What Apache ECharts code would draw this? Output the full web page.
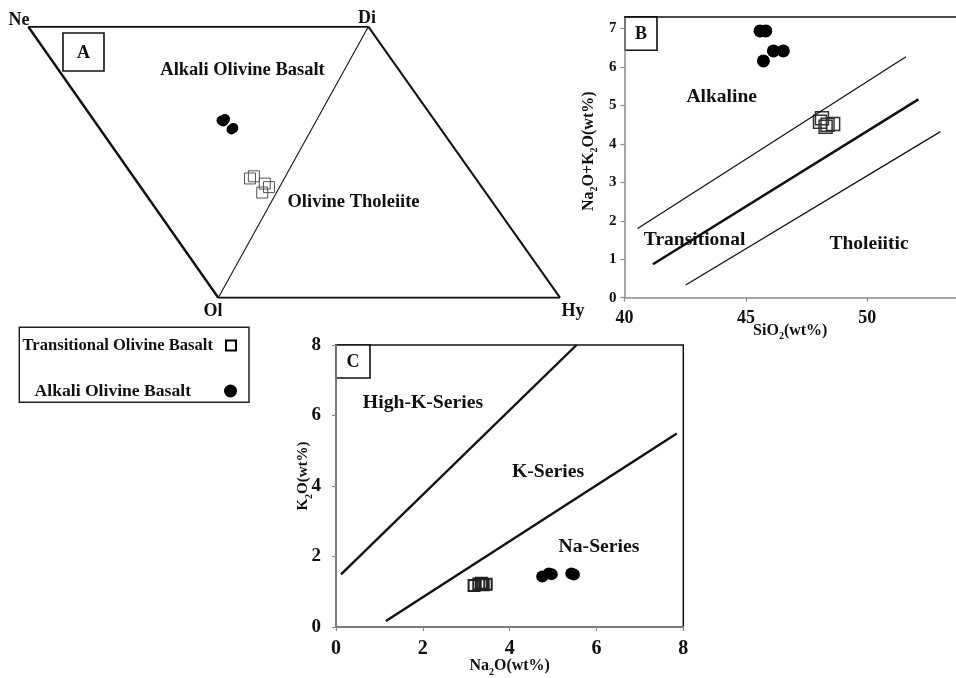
<!DOCTYPE html>
<html>
<head>
<meta charset="utf-8">
<script src="https://cdn.jsdelivr.net/npm/echarts@6/dist/echarts.min.js"></script>
<style>
  html, body { margin: 0; padding: 0; background: #fff; }
  #chart { width: 956px; height: 678px; }
</style>
</head>
<body>
<div id="chart"></div>
<script>
// ---------- Data ----------
// A: normative Ne–Di–Ol proportions (%)
const aobNorm = [[27.9, 37.5, 34.6], [27.1, 38.8, 34.1], [27.2, 37.8, 35.0], [23.5, 38.6, 37.9], [23.2, 39.4, 37.4]];
const tobNorm = [[10.1, 33.9, 56.0], [9.3, 35.5, 55.2], [4.9, 37.2, 57.9], [3.1, 37.7, 59.2], [4.2, 34.6, 61.2]];

// B: total alkali vs silica (wt%)
const aobSiO2 = [45.58, 45.82, 45.72, 46.13, 46.54];
const aobAlk  = [6.94, 6.94, 6.16, 6.42, 6.42];
const tobSiO2 = [48.13, 48.59, 48.28, 48.05, 48.36];
const tobAlk  = [4.67, 4.52, 4.45, 4.58, 4.50];
const alkalineLimit   = [[40.54, 1.80], [51.59, 6.27]];
const alkTholDivide   = [[41.17, 0.87], [52.10, 5.16]];
const tholeiiticLimit = [[42.52, 0.33], [53.01, 4.32]];
const silicaTicks = [40, 45, 50];
const alkaliTicks = [0, 1, 2, 3, 4, 5, 6, 7];

// C: K2O vs Na2O (wt%)
const aobNa2O = [4.75, 4.90, 4.97, 5.42, 5.48];
const aobK2O  = [1.43, 1.52, 1.50, 1.52, 1.49];
const tobNa2O = [3.18, 3.29, 3.39, 3.46, 3.35];
const tobK2O  = [1.18, 1.22, 1.20, 1.21, 1.24];
const highKLimit = [[0.115, 1.49], [5.54, 8.0]];
const naKLimit   = [[1.15, 0.17], [7.85, 5.49]];
const sodaTicks = [0, 2, 4, 6, 8];
const potashTicks = [0, 2, 4, 6, 8];

const TOB = 'Transitional Olivine Basalt';
const AOB = 'Alkali Olivine Basalt';

// ---------- Helpers ----------
const SERIF = '"Liberation Serif", "Times New Roman", serif';
const INK = '#111';

// corners of the Ne–Di–Ol–Hy diagram in its own unit frame
const corner = { Ne: [0, 1], Di: [1, 1], Ol: [0.5588, 0], Hy: [1.5638, 0] };
function ternaryXY(p) {
  const s = p[0] + p[1] + p[2];
  return [
    (p[0] * corner.Ne[0] + p[1] * corner.Di[0] + p[2] * corner.Ol[0]) / s,
    (p[0] * corner.Ne[1] + p[1] * corner.Di[1] + p[2] * corner.Ol[1]) / s
  ];
}
const zip = (xs, ys) => xs.map((x, i) => [x, ys[i]]);

function subRich(size) {
  return {
    b: { fontSize: size, fontWeight: 'bold', fontFamily: SERIF, color: INK, lineHeight: size + 6 },
    s: { fontSize: Math.round(size * 0.65), fontWeight: 'bold', fontFamily: SERIF, color: INK, lineHeight: 8, verticalAlign: 'bottom' }
  };
}

function edge(a, b, width) {
  return {
    type: 'line', xAxisIndex: 0, yAxisIndex: 0, data: [corner[a], corner[b]],
    symbol: 'none', silent: true, lineStyle: { color: INK, width: width }
  };
}
function boundary(axis, pts, width) {
  return {
    type: 'line', xAxisIndex: axis, yAxisIndex: axis, data: pts,
    symbol: 'none', silent: true, lineStyle: { color: INK, width: width }
  };
}
function squares(axis, pts, size, stroke, bw) {
  return {
    name: TOB, type: 'scatter', xAxisIndex: axis, yAxisIndex: axis, data: pts,
    symbol: 'rect', symbolSize: size,
    itemStyle: { color: 'rgba(0,0,0,0)', borderColor: stroke, borderWidth: bw, opacity: 1 }
  };
}
function dots(axis, pts, size) {
  return {
    name: AOB, type: 'scatter', xAxisIndex: axis, yAxisIndex: axis, data: pts,
    symbol: 'circle', symbolSize: size,
    itemStyle: { color: '#000', borderWidth: 0, opacity: 1 }
  };
}
function textAt(x, y, str, size) {
  return {
    type: 'text', x: x, y: y, silent: true,
    style: { text: str, fontSize: size, fontWeight: 'bold', fontFamily: SERIF, fill: INK, align: 'center', verticalAlign: 'middle' }
  };
}
function tagBox(x, y, w, h, str) {
  return [
    { type: 'rect', shape: { x: x, y: y, width: w, height: h }, silent: true, style: { fill: '#fff', stroke: INK, lineWidth: 1.6 } },
    textAt(x + w / 2, y + h / 2 + 1, str, 18)
  ];
}

const font = (size) => ({ fontSize: size, fontWeight: 'bold', fontFamily: SERIF, color: INK });
const greyAxis = { show: true, lineStyle: { color: '#8a8a8a', width: 1.5 } };
const greyTick = { show: true, length: 4, lineStyle: { color: '#8a8a8a', width: 1.2 } };
const hiddenAxis = { show: false };
const SIO2_MAX = 53.65; // frame runs off the right edge

const option = {
  animation: false,
  backgroundColor: '#fff',
  grid: [
    { left: 28.3, top: 26.7, width: 531.7, height: 271 },
    { left: 624.5, top: 16.7, right: 0, height: 281 },
    { left: 336, top: 345, width: 347.3, height: 283.3, show: true, borderColor: INK, borderWidth: 1.5, backgroundColor: 'rgba(0,0,0,0)' }
  ],
  xAxis: [
    Object.assign({ type: 'value', gridIndex: 0, min: 0, max: 1.5638 }, hiddenAxis),
    {
      type: 'value', gridIndex: 1, min: 40, max: SIO2_MAX,
      axisLine: greyAxis, axisTick: Object.assign({ customValues: silicaTicks }, greyTick),
      splitLine: { show: false },
      axisLabel: Object.assign({ customValues: silicaTicks, margin: 12 }, font(18)),
      name: '{b|SiO}{s|2}{b|(wt%)}', nameLocation: 'middle', nameGap: 22, nameMoveOverlap: false,
      nameTextStyle: { rich: subRich(16) }
    },
    {
      type: 'value', gridIndex: 2, min: 0, max: 8, interval: 2,
      axisLine: greyAxis, axisTick: Object.assign({ customValues: sodaTicks }, greyTick),
      splitLine: { show: false },
      axisLabel: Object.assign({ customValues: sodaTicks, margin: 12 }, font(20)),
      name: '{b|Na}{s|2}{b|O(wt%)}', nameLocation: 'middle', nameGap: 28, nameMoveOverlap: false,
      nameTextStyle: { rich: subRich(16) }
    },
    // top edge of the TAS frame
    {
      type: 'value', gridIndex: 1, position: 'top', min: 40, max: SIO2_MAX,
      axisLine: { show: true, onZero: false, lineStyle: { color: INK, width: 1.5 } },
      axisTick: { show: false }, axisLabel: { show: false }, splitLine: { show: false }
    }
  ],
  yAxis: [
    Object.assign({ type: 'value', gridIndex: 0, min: 0, max: 1 }, hiddenAxis),
    {
      type: 'value', gridIndex: 1, min: 0, max: 7.31,
      axisLine: greyAxis, axisTick: Object.assign({ customValues: alkaliTicks }, greyTick),
      splitLine: { show: false },
      axisLabel: Object.assign({ customValues: alkaliTicks, margin: 8 }, font(15)),
      name: '{b|Na}{s|2}{b|O+K}{s|2}{b|O(wt%)}', nameLocation: 'middle', nameGap: 25, nameMoveOverlap: false,
      nameTextStyle: { rich: subRich(16), padding: [0, 0, 0, 12] }
    },
    {
      type: 'value', gridIndex: 2, min: 0, max: 8, interval: 2,
      axisLine: greyAxis, axisTick: Object.assign({ customValues: potashTicks }, greyTick),
      splitLine: { show: false },
      axisLabel: Object.assign({ customValues: potashTicks, margin: 15 }, font(19)),
      name: '{b|K}{s|2}{b|O(wt%)}', nameLocation: 'middle', nameGap: 22, nameMoveOverlap: false,
      nameTextStyle: { rich: subRich(15), padding: [0, 0, 0, 20] }
    }
  ],
  legend: [
    {
      data: [{ name: TOB, icon: 'rect', itemStyle: { color: '#fff', borderColor: '#000', borderWidth: 2 } }],
      orient: 'vertical', align: 'right', right: 719, top: 337, padding: 0,
      itemWidth: 10, itemHeight: 10, selectedMode: false,
      textStyle: Object.assign({ padding: [0, 8, 0, 0] }, font(16.6))
    },
    {
      data: [{ name: AOB, icon: 'circle', itemStyle: { color: '#000', borderWidth: 0 } }],
      orient: 'vertical', align: 'right', right: 719, top: 382, padding: 0,
      itemWidth: 13, itemHeight: 13, selectedMode: false,
      textStyle: Object.assign({ padding: [0, 28, 0, 0] }, font(17.6))
    }
  ],
  series: [
    // A: diagram outline
    edge('Ne', 'Di', 2), edge('Ne', 'Ol', 2.4), edge('Di', 'Ol', 1.1),
    edge('Di', 'Hy', 2), edge('Ol', 'Hy', 2),
    squares(0, tobNorm.map(ternaryXY), 11, '#555', 1),
    dots(0, aobNorm.map(ternaryXY), 10),
    // B: alkaline / tholeiitic fields
    boundary(1, alkalineLimit, 1.3), boundary(1, alkTholDivide, 2.6), boundary(1, tholeiiticLimit, 1.3),
    squares(1, zip(tobSiO2, tobAlk), 13, '#333', 1.5),
    dots(1, zip(aobSiO2, aobAlk), 13),
    // C: sodic / potassic series
    boundary(2, highKLimit, 2.4), boundary(2, naKLimit, 2.4),
    squares(2, zip(tobNa2O, tobK2O), 11, '#222', 2),
    dots(2, zip(aobNa2O, aobK2O), 12)
  ],
  graphic: [
    // A labels
    textAt(19, 20, 'Ne', 18), textAt(367, 18, 'Di', 18), textAt(213, 311, 'Ol', 18), textAt(573, 311, 'Hy', 18),
    textAt(242.5, 70, 'Alkali Olivine Basalt', 18.5), textAt(353.5, 202, 'Olivine Tholeiite', 18.5),
    ...tagBox(63, 33, 41, 38, 'A'),
    // B labels
    textAt(721.7, 97, 'Alkaline', 19.5), textAt(694.6, 240, 'Transitional', 19.5), textAt(869, 244, 'Tholeiitic', 19.5),
    ...tagBox(625, 16.7, 32, 33.5, 'B'),
    // C labels
    textAt(423, 403, 'High-K-Series', 19.7), textAt(548, 472, 'K-Series', 19.7), textAt(599, 547, 'Na-Series', 19.7),
    ...tagBox(336, 345, 34, 33, 'C'),
    // legend frame
    { type: 'rect', shape: { x: 19.3, y: 327.3, width: 229.7, height: 75 }, silent: true, z: -1,
      style: { fill: 'rgba(0,0,0,0)', stroke: '#222', lineWidth: 1.5 } }
  ]
};

const chart = echarts.init(document.getElementById('chart'), null, { renderer: 'canvas' });
chart.setOption(option);
</script>
</body>
</html>
